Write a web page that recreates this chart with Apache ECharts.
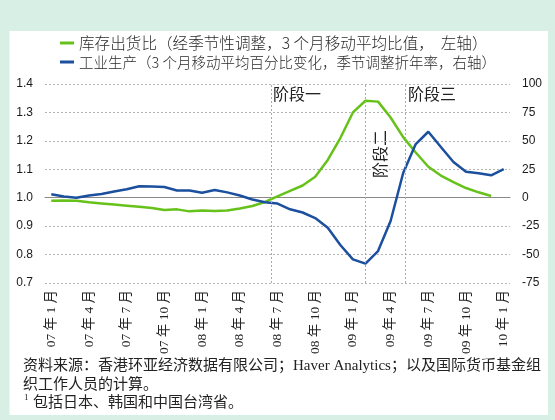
<!DOCTYPE html>
<html>
<head>
<meta charset="utf-8">
<script src="https://cdn.jsdelivr.net/npm/echarts@6/dist/echarts.min.js"></script>
<style>
html,body{margin:0;padding:0;background:#d8efe6;}
#c{width:555px;height:420px;}
</style>
</head>
<body>
<div id="c"></div>
<script>
const categories = [
 '07 年 1 月','07 年 2 月','07 年 3 月','07 年 4 月','07 年 5 月','07 年 6 月','07 年 7 月','07 年 8 月','07 年 9 月','07 年 10 月','07 年 11 月','07 年 12 月',
 '08 年 1 月','08 年 2 月','08 年 3 月','08 年 4 月','08 年 5 月','08 年 6 月','08 年 7 月','08 年 8 月','08 年 9 月','08 年 10 月','08 年 11 月','08 年 12 月',
 '09 年 1 月','09 年 2 月','09 年 3 月','09 年 4 月','09 年 5 月','09 年 6 月','09 年 7 月','09 年 8 月','09 年 9 月','09 年 10 月','09 年 11 月','09 年 12 月',
 '10 年 1 月'
];
const inventoryRatio = [0.989,0.990,0.989,0.984,0.980,0.976,0.972,0.968,0.964,0.957,0.959,0.952,
 0.955,0.953,0.955,0.962,0.971,0.985,1.005,1.024,1.043,1.074,1.133,1.210,
 1.300,1.341,1.338,1.282,1.213,1.159,1.109,1.078,1.055,1.034,1.019,1.006];
const industrialProduction = [3.0,1.0,0,1.9,3.3,5.5,7.4,10.1,9.8,9.4,6.3,6.3,
 4.4,6.8,4.7,1.9,-1.6,-4.0,-5.1,-10.2,-13.0,-17.9,-26.4,-41.6,
 -54.2,-58.0,-46.9,-20.5,21.7,47.2,58.0,44.6,31.4,22.8,21.5,19.7,25.2];
const leftTicks = {min:0.7, max:1.4, interval:0.1};
const rightTicks = {min:-75, max:100, interval:25};
const phaseBreaks = [17.5, 25, 28.2];
const phaseNames = ['阶段一','阶段二','阶段三'];
const seriesNames = ['库存出货比（经季节性调整，3 个月移动平均比值，  左轴）','工业生产（3 个月移动平均百分比变化，季节调整折年率，右轴）'];
const footLines = ['资料来源：香港环亚经济数据有限公司；Haver Analytics；以及国际货币基金组','织工作人员的计算。','包括日本、韩国和中国台湾省。'];

const serif = "'Liberation Serif','Noto Sans CJK SC',serif";
const sans = "'Noto Sans CJK SC','Liberation Sans',sans-serif";
const chart = echarts.init(document.getElementById('c'), null, {renderer:'canvas'});
const legendText1 = {fontFamily: sans, fontSize: 15.6, fontWeight: 300, color:'#2a2a2a', lineHeight:16};
const legendText2 = {fontFamily: sans, fontSize: 14.5, fontWeight: 300, color:'#2a2a2a', lineHeight:16};
const gridLine = {show:true, lineStyle:{color:'#b5b5b5', type:[2,2], width:1}};
chart.setOption({
  animation:false,
  backgroundColor:'#d8efe6',
  graphic:[
    {type:'rect', z:-10, shape:{x:9.5,y:31,width:538.5,height:384}, style:{fill:'#ffffff'}},
    {type:'text', left:273, top:86, style:{text:phaseNames[0], font:"16px 'Noto Sans CJK SC'", fill:'#222'}},
    {type:'text', x:380, y:154, rotation:Math.PI/2, style:{text:phaseNames[1], font:"16px 'Noto Sans CJK SC'", fill:'#222', textAlign:'center', textVerticalAlign:'middle'}},
    {type:'text', left:408, top:86, style:{text:phaseNames[2], font:"16px 'Noto Sans CJK SC'", fill:'#222'}},
    {type:'text', x:23, y:366, style:{text:footLines[0], font:"15px "+serif, fill:'#222', textVerticalAlign:'middle'}},
    {type:'text', x:23, y:385, style:{text:footLines[1], font:"15px "+serif, fill:'#222', textVerticalAlign:'middle'}},
    {type:'text', x:24, y:398, style:{text:'1', font:"9px "+serif, fill:'#222', textVerticalAlign:'middle'}},
    {type:'text', x:33, y:403, style:{text:footLines[2], font:"15px "+serif, fill:'#222', textVerticalAlign:'middle'}}
  ],
  legend:[
    {data:[seriesNames[0]], left:60, top:35, padding:0, icon:'rect', itemWidth:14, itemHeight:3, textStyle:legendText1, selectedMode:false},
    {data:[seriesNames[1]], left:60, top:54, padding:0, icon:'rect', itemWidth:14, itemHeight:3, textStyle:legendText2, selectedMode:false}
  ],
  grid:{left:45, right:45, top:84, bottom:137, containLabel:false},
  xAxis:[
    {type:'category', data:categories, boundaryGap:true,
     axisLine:{lineStyle:{color:'#888', width:1}},
     axisTick:{interval:2, length:5, lineStyle:{color:'#888'}},
     axisLabel:{interval:2, rotate:90, margin:7, fontFamily:serif, fontSize:13.5, color:'#222'},
     splitLine:{show:false}},
    {type:'value', min:-0.5, max:categories.length-0.5, show:false}
  ],
  yAxis:[
    {type:'value', min:leftTicks.min, max:leftTicks.max, interval:leftTicks.interval,
     axisLine:{show:false}, axisTick:{show:false},
     axisLabel:{margin:12, fontFamily:"'Liberation Sans',Arial,sans-serif", fontSize:12, color:'#1a1a1a', formatter:v=>v.toFixed(1)},
     splitLine:gridLine},
    {type:'value', min:rightTicks.min, max:rightTicks.max, interval:rightTicks.interval, position:'right',
     axisLine:{show:false}, axisTick:{show:false},
     axisLabel:{margin:12, fontFamily:"'Liberation Sans',Arial,sans-serif", fontSize:12, color:'#1a1a1a'},
     splitLine:{show:false}}
  ],
  series:[
    {name:seriesNames[0], type:'line', xAxisIndex:0, yAxisIndex:0, data:inventoryRatio, symbol:'none',
     lineStyle:{color:'#66c21a', width:2.5}, itemStyle:{color:'#66c21a'}},
    {name:seriesNames[1], type:'line', xAxisIndex:0, yAxisIndex:1, data:industrialProduction, symbol:'none',
     lineStyle:{color:'#1c4f9e', width:2.5}, itemStyle:{color:'#1c4f9e'}},
    {name:'phases', type:'line', xAxisIndex:1, yAxisIndex:0, data:[], silent:true,
     markLine:{symbol:'none', silent:true, label:{show:false},
       lineStyle:{color:'#a8a8a8', type:[2,2], width:1},
       data:phaseBreaks.map(v=>({xAxis:v}))}}
  ]
});
</script>
</body>
</html>
